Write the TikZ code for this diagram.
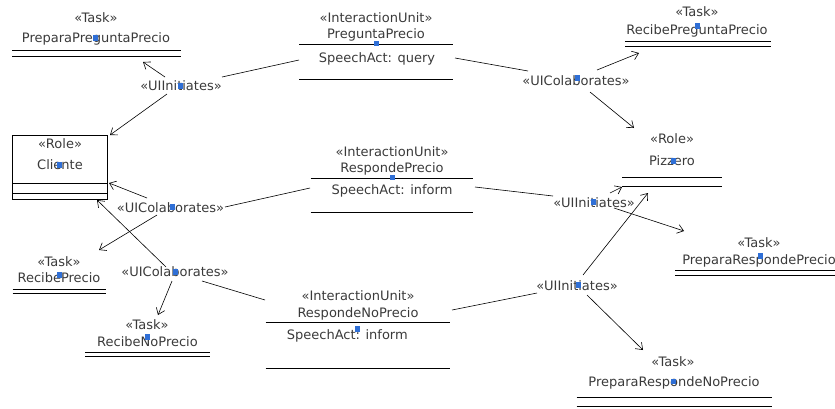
\documentclass[tikz,border=0pt]{standalone}
\usepackage{fontspec}
\setmainfont{DejaVu Sans}
\usetikzlibrary{arrows.meta}
\definecolor{txtgray}{HTML}{3A3A3A}
\definecolor{selblue}{HTML}{2F6FD6}
\begin{document}
\begin{tikzpicture}[x=1pt,y=-1pt,
  lbl/.style={font=\fontsize{13}{15}\selectfont, text=txtgray, inner sep=0pt, anchor=base},
  hline/.style={line width=0.8pt, draw=black},
  conn/.style={line width=0.6pt, draw=black},
  arr/.style={conn, -{Straight Barb[length=6pt,width=9pt]}},
  selmark/.style={fill=selblue, draw=none, rectangle, minimum width=5pt, minimum height=5.5pt, inner sep=0pt}
]
\useasboundingbox (0,0) rectangle (835,408);

% ---------- Task PreparaPreguntaPrecio
\node[lbl] (ppp-s) at (96,22.7) {«Task»};
\node[lbl] (ppp-n) at (96,42) {PreparaPreguntaPrecio};
\draw[hline] (12,50.7) -- (181,50.7);
\draw[hline] (12,56.7) -- (181,56.7);

% ---------- InteractionUnit PreguntaPrecio
\node[lbl] (pp-s) at (376,22) {«InteractionUnit»};
\node[lbl] (pp-n) at (376,38.3) {PreguntaPrecio};
\draw[hline] (299,44) -- (453,44);
\node[lbl] (pp-a) at (377,62.5) {SpeechAct: query};
\draw[hline] (299,79) -- (453,79);

% ---------- Task RecibePreguntaPrecio
\node[lbl] (rpp-s) at (697,16.5) {«Task»};
\node[lbl] (rpp-n) at (697,34) {RecibePreguntaPrecio};
\draw[hline] (625,41) -- (771,41);
\draw[hline] (625,46) -- (771,46);

% ---------- Role Cliente
\draw[hline] (12.7,135) rectangle (107.3,199);
\draw[hline] (12.7,183) -- (107.3,183);
\draw[hline] (12.7,193) -- (107.3,193);
\node[lbl] (cl-s) at (60,148.3) {«Role»};
\node[lbl] (cl-n) at (60,169.3) {Cliente};

% ---------- Role Pizzero
\node[lbl] (pz-s) at (672,143.3) {«Role»};
\node[lbl] (pz-n) at (672,165) {Pizzero};
\draw[hline] (622,177) -- (722,177);
\draw[hline] (622,186) -- (722,186);

% ---------- InteractionUnit RespondePrecio
\node[lbl] (rp-s) at (392,156) {«InteractionUnit»};
\node[lbl] (rp-n) at (392,172.7) {RespondePrecio};
\draw[hline] (310.7,178) -- (473.3,178);
\node[lbl] (rp-a) at (392,194) {SpeechAct: inform};
\draw[hline] (310.7,212) -- (473.3,212);

% ---------- Task RecibePrecio
\node[lbl] (rcp-s) at (59,266) {«Task»};
\node[lbl] (rcp-n) at (59,282.7) {RecibePrecio};
\draw[hline] (12.7,289.3) -- (106,289.3);
\draw[hline] (12.7,293.3) -- (106,293.3);

% ---------- Task RecibeNoPrecio
\node[lbl] (rnp-s) at (147,329.3) {«Task»};
\node[lbl] (rnp-n) at (147.5,346) {RecibeNoPrecio};
\draw[hline] (85,352.3) -- (210,352.3);
\draw[hline] (85,356.7) -- (210,356.7);

% ---------- InteractionUnit RespondeNoPrecio
\node[lbl] (rnpu-s) at (358,300.7) {«InteractionUnit»};
\node[lbl] (rnpu-n) at (358,317.3) {RespondeNoPrecio};
\draw[hline] (265.7,322.7) -- (450,322.7);
\node[lbl, anchor=base west] (rnpu-a) at (286.7,339) {SpeechAct: inform};
\draw[hline] (265.7,368.3) -- (450,368.3);

% ---------- Task PreparaRespondePrecio
\node[lbl] (prp-s) at (759,247.5) {«Task»};
\node[lbl] (prp-n) at (759,264) {PreparaRespondePrecio};
\draw[hline] (675,270.3) -- (835,270.3);
\draw[hline] (675,275) -- (835,275);

% ---------- Task PreparaRespondeNoPrecio
\node[lbl] (prnp-s) at (673,366) {«Task»};
\node[lbl] (prnp-n) at (674,386) {PreparaRespondeNoPrecio};
\draw[hline] (576.7,397.3) -- (771.7,397.3);
\draw[hline] (576.7,406) -- (771.7,406);

% ---------- association labels
\node[lbl] (l1) at (181,90.5) {«UIInitiates»};
\node[lbl] (l2) at (576,85) {«UIColaborates»};
\node[lbl] (l3) at (170.5,212) {«UIColaborates»};
\node[lbl] (l4) at (175,276.7) {«UIColaborates»};
\node[lbl] (l5) at (594,207.3) {«UIInitiates»};
\node[lbl] (l6) at (577,290) {«UIInitiates»};

% ---------- connector end points
\coordinate (pp-w) at (299,60);
\coordinate (l1-e) at (222,77);
\coordinate (l1-nw) at (165,77);
\coordinate (l1-sw) at (167,94);
\coordinate (ppp-t) at (143,62);
\coordinate (cl-ne) at (110,135);

\coordinate (pp-e) at (455,58);
\coordinate (l2-w) at (528,71);
\coordinate (l2-ne) at (597,70);
\coordinate (l2-se) at (590,92);
\coordinate (rpp-t) at (639,53);
\coordinate (pz-t1) at (634,128);

\coordinate (rp-w) at (310,188);
\coordinate (l3-e) at (225,207);
\coordinate (l3-nw) at (147,198);
\coordinate (l3-sw) at (157,215);
\coordinate (cl-e) at (109,183);
\coordinate (rcp-t) at (99,250);

\coordinate (rnpu-w) at (265,300);
\coordinate (l4-e) at (202,281);
\coordinate (l4-nw) at (166,267);
\coordinate (l4-s) at (172,281);
\coordinate (cl-se) at (97,200);
\coordinate (rnp-t) at (158,315);

\coordinate (rp-e) at (475,187);
\coordinate (l5-w) at (553,196);
\coordinate (l5-ne) at (610,193);
\coordinate (l5-se) at (614,208);
\coordinate (pz-t2) at (622,187);
\coordinate (prp-t) at (684,231);

\coordinate (rnpu-e) at (452,310);
\coordinate (l6-w) at (537,293);
\coordinate (l6-ne) at (583,275);
\coordinate (l6-se) at (587,295);
\coordinate (pz-t3) at (648,193);
\coordinate (prnp-t) at (643,350);

% ---------- connectors
\draw[conn] (pp-w) -- (l1-e);
\draw[arr] (l1-nw) -- (ppp-t);
\draw[arr] (l1-sw) -- (cl-ne);

\draw[conn] (pp-e) -- (l2-w);
\draw[arr] (l2-ne) -- (rpp-t);
\draw[arr] (l2-se) -- (pz-t1);

\draw[conn] (rp-w) -- (l3-e);
\draw[arr] (l3-nw) -- (cl-e);
\draw[arr] (l3-sw) -- (rcp-t);

\draw[conn] (rnpu-w) -- (l4-e);
\draw[arr] (l4-nw) -- (cl-se);
\draw[arr] (l4-s) -- (rnp-t);

\draw[conn] (rp-e) -- (l5-w);
\draw[arr] (l5-ne) -- (pz-t2);
\draw[arr] (l5-se) -- (prp-t);

\draw[conn] (rnpu-e) -- (l6-w);
\draw[arr] (l6-ne) -- (pz-t3);
\draw[arr] (l6-se) -- (prnp-t);

% ---------- selection handles
\node[selmark] (h1) at (95,38) {};
\node[selmark] (h2) at (376,43.5) {};
\node[selmark] (h3) at (697,26) {};
\node[selmark] (h4) at (180,86) {};
\node[selmark] (h5) at (577,78) {};
\node[selmark] (h6) at (59,165) {};
\node[selmark] (h7) at (673,161) {};
\node[selmark] (h8) at (392,177.7) {};
\node[selmark] (h9) at (172,207) {};
\node[selmark] (h10) at (593,202) {};
\node[selmark] (h11) at (59,275) {};
\node[selmark] (h12) at (175,272) {};
\node[selmark] (h13) at (147,337) {};
\node[selmark] (h14) at (357,329) {};
\node[selmark] (h15) at (578,285) {};
\node[selmark] (h16) at (760,256) {};
\node[selmark] (h17) at (673,381.7) {};
\end{tikzpicture}
\end{document}
